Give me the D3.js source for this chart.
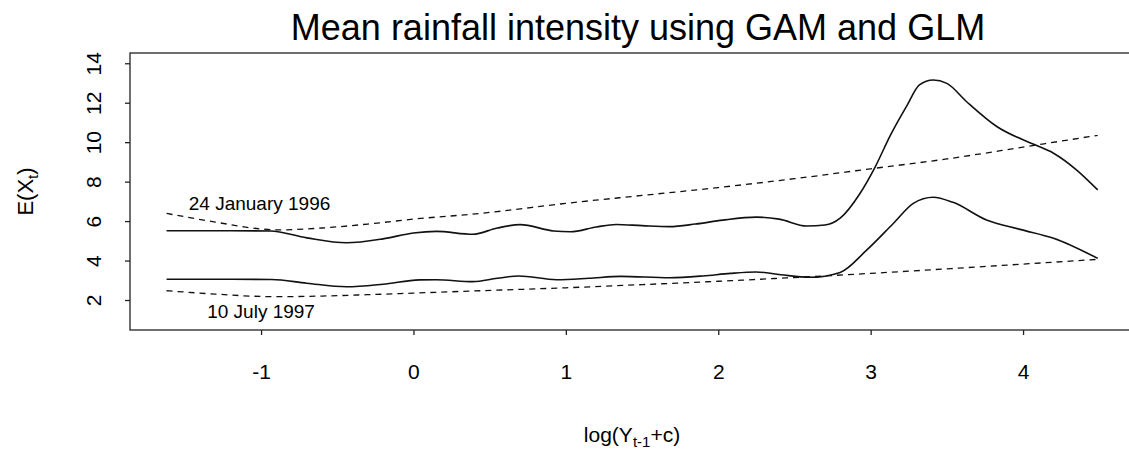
<!DOCTYPE html>
<html>
<head>
<meta charset="utf-8">
<script src="https://cdn.jsdelivr.net/npm/d3@7"></script>
<style>
  body { margin: 0; background: #fff; }
  svg { display: block; font-family: "Liberation Sans", Arial, Helvetica, sans-serif; }
</style>
</head>
<body>
<div id="chart"></div>
<script>
// x positions, log(Y_{t-1}+c)
let gamX = [-1.62, -1.2, -0.94, -0.7, -0.44, -0.2, 0.0, 0.15, 0.39, 0.55, 0.7, 0.92, 1.03, 1.2, 1.33, 1.5, 1.68,
  1.85, 2.03, 2.25, 2.4, 2.58, 2.7, 2.8, 2.93, 3.03, 3.13, 3.24, 3.32, 3.41, 3.5, 3.63, 3.83, 4.07, 4.2, 4.35, 4.49];
// GAM fit, 24 January 1996
let gamJan96 = [5.51, 5.51, 5.5, 5.15, 4.9, 5.1, 5.4, 5.48, 5.33, 5.65, 5.82, 5.5, 5.46, 5.7, 5.83, 5.77, 5.72,
  5.85, 6.05, 6.2, 6.1, 5.75, 5.8, 6.15, 7.4, 8.75, 10.36, 11.88, 12.9, 13.15, 12.98, 12.05, 10.78, 9.89, 9.44, 8.6, 7.58];

let gamX2 = [-1.62, -1.2, -0.93, -0.7, -0.44, -0.2, 0.04, 0.15, 0.39, 0.55, 0.69, 0.94, 1.15, 1.36, 1.68, 1.9,
  2.08, 2.25, 2.41, 2.6, 2.8, 2.97, 3.15, 3.28, 3.41, 3.54, 3.76, 3.98, 4.2, 4.49];
// GAM fit, 10 July 1997
let gamJul97 = [3.05, 3.05, 3.04, 2.85, 2.67, 2.8, 3.02, 3.03, 2.93, 3.1, 3.22, 3.03, 3.1, 3.2, 3.13, 3.22,
  3.35, 3.42, 3.28, 3.15, 3.4, 4.5, 5.89, 6.9, 7.21, 6.95, 6.06, 5.58, 5.13, 4.11];

let glmX = [-1.62, -1.3, -1.0, -0.9, -0.6, -0.3, 0.0, 0.44, 1.0, 1.5, 2.0, 2.5, 3.0, 3.5, 4.0, 4.49];
// GLM fits
let glmJan96 = [6.39, 5.95, 5.6, 5.55, 5.65, 5.85, 6.1, 6.39, 6.9, 7.3, 7.7, 8.15, 8.65, 9.15, 9.75, 10.35];
let glmJul97 = [2.47, 2.3, 2.18, 2.17, 2.2, 2.27, 2.35, 2.47, 2.62, 2.78, 2.95, 3.14, 3.35, 3.58, 3.82, 4.06];

let xTicks = [-1, 0, 1, 2, 3, 4];
let yTicks = [2, 4, 6, 8, 10, 12, 14];

let width = 1129;
let height = 455;

let svg = d3.select('#chart')
        .append('svg')
        .attr('width', width)
        .attr('height', height);

let xScale = d3.scaleLinear()
        .domain([-1.86, 4.728])
        .range([130, 1134]);

let yScale = d3.scaleLinear()
        .domain([0.48, 14.52])
        .range([330, 53]);

// frame (right edge falls just outside the picture)
svg.append('rect')
        .attr('x', xScale.range()[0])
        .attr('y', yScale.range()[1])
        .attr('width', xScale.range()[1] - xScale.range()[0])
        .attr('height', yScale.range()[0] - yScale.range()[1])
        .style('fill', 'none')
        .style('stroke', '#222')
        .style('stroke-width', 1.3);

let xAxis = d3.axisBottom(xScale)
        .tickValues(xTicks)
        .tickFormat(d3.format('d'))
        .tickSizeOuter(0)
        .tickSize(5);

let yAxis = d3.axisLeft(yScale)
        .tickValues(yTicks)
        .tickSizeOuter(0)
        .tickSize(5);

let xAxis_g = svg.append('g')
        .attr('class', 'x axis')
        .attr('transform', 'translate(0,330)')
        .call(xAxis);
xAxis_g.select('.domain').remove();
xAxis_g.selectAll('line').style('stroke', '#222').style('stroke-width', 1.3);
xAxis_g.selectAll('text')
        .attr('y', 48.5)
        .attr('dy', null)
        .style('font-size', '21px')
        .style('fill', '#000')
        .text(function(d) { return d < 0 ? '-' + Math.abs(d) : d; });

let yAxis_g = svg.append('g')
        .attr('class', 'y axis')
        .attr('transform', 'translate(130,0)')
        .call(yAxis);
yAxis_g.select('.domain').remove();
yAxis_g.selectAll('line').style('stroke', '#222').style('stroke-width', 1.3);
yAxis_g.selectAll('text')
        .attr('x', null)
        .attr('dy', '0.36em')
        .attr('text-anchor', 'middle')
        .attr('transform', 'translate(-36.5,0) rotate(-90)')
        .style('font-size', '21px')
        .style('fill', '#000');

let line = d3.line()
        .x(function(d) { return xScale(d[0]); })
        .y(function(d) { return yScale(d[1]); })
        .curve(d3.curveMonotoneX);

let series = [
  { xs: glmX, ys: glmJan96, dash: '6,5', w: 1.3 },
  { xs: glmX, ys: glmJul97, dash: '6,5', w: 1.3 },
  { xs: gamX, ys: gamJan96, dash: null, w: 1.6 },
  { xs: gamX2, ys: gamJul97, dash: null, w: 1.6 }
];

svg.selectAll('.curve')
        .data(series)
        .enter().append('path')
        .attr('class', 'curve')
        .attr('d', function(s) { return line(s.xs.map(function(x, i) { return [x, s.ys[i]]; })); })
        .style('fill', 'none')
        .style('stroke', '#111')
        .style('stroke-width', function(s) { return s.w; })
        .style('stroke-dasharray', function(s) { return s.dash; });

// date labels
svg.append('text')
        .attr('x', xScale(-1.01))
        .attr('y', yScale(6.92))
        .attr('dy', '0.36em')
        .attr('text-anchor', 'middle')
        .style('font-size', '19px')
        .text('24 January 1996');

svg.append('text')
        .attr('x', xScale(-1.0))
        .attr('y', yScale(1.44))
        .attr('dy', '0.36em')
        .attr('text-anchor', 'middle')
        .style('font-size', '19px')
        .text('10 July 1997');

// title
svg.append('text')
        .attr('x', 638)
        .attr('y', 40)
        .attr('text-anchor', 'middle')
        .style('font-size', '36px')
        .text('Mean rainfall intensity using GAM and GLM');

// x axis title
let xt = svg.append('text')
        .attr('x', 632)
        .attr('y', 442)
        .attr('text-anchor', 'middle')
        .style('font-size', '21px');
xt.append('tspan').text('log(Y');
xt.append('tspan').attr('dy', 5).style('font-size', '15px').text('t-1');
xt.append('tspan').attr('dy', -5).text('+c)');

// y axis title
let yt = svg.append('text')
        .attr('transform', 'translate(33,191.5) rotate(-90)')
        .attr('text-anchor', 'middle')
        .style('font-size', '22px');
yt.append('tspan').text('E(X');
yt.append('tspan').attr('dy', 5).style('font-size', '15px').text('t');
yt.append('tspan').attr('dy', -5).text(')');
</script>
</body>
</html>
